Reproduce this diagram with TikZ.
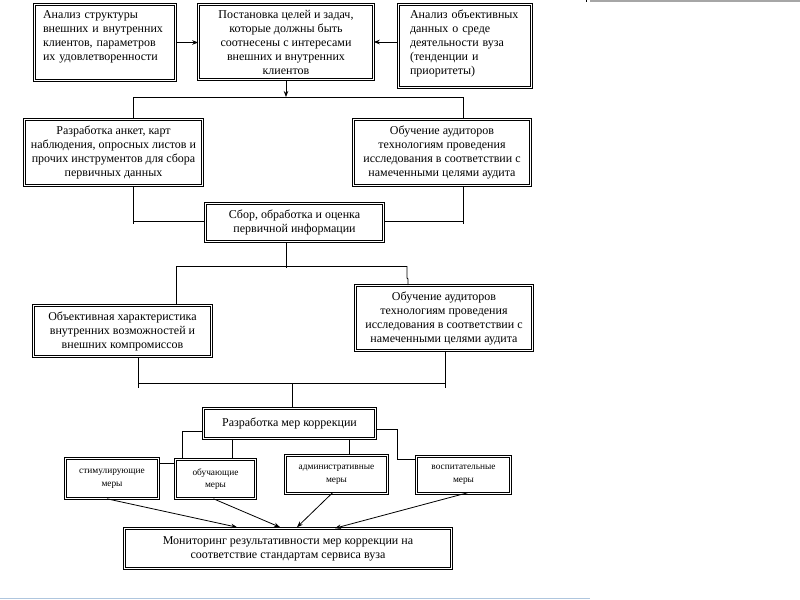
\documentclass[tikz,border=0pt]{standalone}
\usepackage{fontspec}
\setmainfont{Liberation Serif}
\usetikzlibrary{arrows.meta,calc}
\tikzset{
  box/.style={draw, double, double distance=1.1pt, line width=0.45pt, inner sep=0pt,
    align=center, font=\fontsize{9}{10.5}\selectfont},
  sz/.style 2 args={minimum width=#1*0.75pt, minimum height=#2*0.75pt},
  txt/.style={inner sep=0pt, font=\fontsize{9}{10.5}\selectfont},
  small/.style={font=\fontsize{7}{9.5}\selectfont},
  ln/.style={line width=0.6pt},
  arr/.style={ln, -{Stealth[length=4.5pt,width=3.4pt]}}
}
\begin{document}
\begin{tikzpicture}[x=0.75pt,y=-0.75pt]
\useasboundingbox (0,0) rectangle (800,600);
\fill[white] (0,0) rectangle (800,600);
% screen artifacts
\draw[line width=1.2pt, black!35] (590,0.8) -- (800,0.8);
\draw[line width=0.6pt] (586,0) -- (586,2);
\draw[line width=1.4pt, color={rgb,255:red,175;green,198;blue,222}] (0,598.5) -- (590,598.5);

% top row
\node[box, sz={141}{76}] (A) at (105,42.5) {};
\node[txt, text width=124*0.75pt, align=left] (At) at ($(A)+(0,-6)$) {Анализ структуры\\внешних и внутренних\\клиентов, параметров\\их удовлетворенности};
\node[box, sz={175}{75}] (B) at (286,42) {Постановка целей и задач,\\которые должны быть\\соотнесены с интересами\\внешних и внутренних\\клиентов};
\node[box, sz={133}{83}] (E) at (465,46) {};
\node[txt, text width=110*0.75pt, align=left] (Et) at ($(E)+(0,-3)$) {Анализ объективных\\данных о среде\\деятельности вуза\\(тенденции и\\приоритеты)};

% second row
\node[box, sz={178}{66}] (C) at (113.5,152.5) {Разработка анкет, карт\\наблюдения, опросных листов и\\прочих инструментов для сбора\\первичных данных};
\node[box, sz={177}{66}] (D) at (442,152.5) {Обучение аудиторов\\технологиям проведения\\исследования в соответствии с\\намеченными целями аудита};
\node[box, sz={178}{38}] (F) at (294.5,222.5) {Сбор, обработка и оценка\\первичной информации};

% third row
\node[box, sz={178}{51}] (G) at (122.5,331) {Объективная характеристика\\внутренних возможностей и\\внешних компромиссов};
\node[box, sz={177}{65}] (H) at (444,318) {Обучение аудиторов\\технологиям проведения\\исследования в соответствии с\\намеченными целями аудита};

% correction
\node[box, sz={172}{30}] (I) at (289.5,423.5) {Разработка мер коррекции};
\node[box, small, sz={93}{40}] (J) at (112,478.5) {стимулирующие\\меры};
\node[box, small, sz={80}{39}] (K) at (215.5,479) {обучающие\\меры};
\node[box, small, sz={102}{38}] (L) at (336.5,474.5) {административные\\меры};
\node[box, small, sz={94}{37}] (M) at (463.5,475) {воспитательные\\меры};
\node[box, sz={327}{40}] (N) at (288,548.5) {Мониторинг результативности мер коррекции на\\соответствие стандартам сервиса вуза};

% connectors top
\draw[arr] (A.east) -- (A.east -| B.west);
\draw[arr] (E.west |- B.east) -- (B.east);
\coordinate (j1) at (286,97);
\coordinate (b1) at (133,97);
\coordinate (b2) at (463,97);
\draw[arr] (B.south) -- (j1);
\draw[ln] (b1) -- (b2);
\draw[ln] (b1) -- (b1 |- C.north);
\draw[ln] (b2) -- (b2 |- D.north);

% to F
\coordinate (c1) at (133,221);
\coordinate (c2) at (463,221);
\draw[ln] (c1 |- C.south) -- ($(c1)+(0,3)$);
\draw[ln] (c1) -- (c1 -| F.west);
\draw[ln] (c2 |- D.south) -- ($(c2)+(0,3)$);
\draw[ln] (c2) -- (c2 -| F.east);

% from F
\coordinate (f1) at (286,266);
\coordinate (g1) at (176,266);
\coordinate (h1) at (407,266);
\draw[ln] (f1 |- F.south) -- ($(f1)+(0,2)$);
\draw[ln] (g1) -- (h1);
\draw[ln] (g1) -- (g1 |- G.north);
\draw[ln] (h1) -- (407,278) -- (408,279) -- (408,0 |- H.north);

% to I
\coordinate (k1) at (138,383);
\coordinate (k2) at (445,383);
\coordinate (k3) at (292,383);
\draw[ln] (k1 |- G.south) -- ($(k1)+(0,5)$);
\draw[ln] (k1) -- (k2);
\draw[ln] (k2 |- H.south) -- ($(k2)+(0,5)$);
\draw[ln] (k3) -- (k3 |- I.north);

% from I
\coordinate (i1) at (182,431);
\coordinate (i2) at (397,429);
\coordinate (i3) at (397,459);
\draw[ln] (I.west |- i1) -- (i1) -- (i1 |- K.north);
\draw[ln] (232,0 |- I.south) -- (232,0 |- K.north);
\draw[ln] (349,0 |- I.south) -- (349,0 |- L.north);
\draw[ln] (I.east |- i2) -- (i2) -- (i3) -- (i3 -| M.west);
\draw[ln] (J.east |- 0,463) -- (K.west |- 0,463);

% to N
\draw[arr] ($(J.south)+(-5,0)$) -- ($(N.north)+(-51,-1)$);
\draw[arr] ($(K.south)+(-2,0)$) -- ($(N.north)+(-8,-1)$);
\draw[arr] ($(L.south)+(-4,-1)$) -- ($(N.north)+(9,-1)$);
\draw[arr] ($(M.south)+(4,-1)$) -- ($(N.north)+(47,0)$);
\end{tikzpicture}
\end{document}
